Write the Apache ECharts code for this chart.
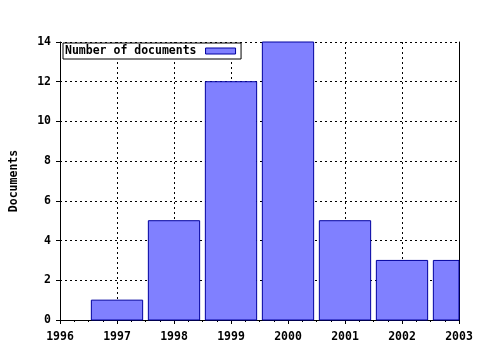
<!DOCTYPE html>
<html>
<head>
<meta charset="utf-8">
<script src="https://cdn.jsdelivr.net/npm/echarts@6/dist/echarts.min.js"></script>
<style>
  html, body { margin: 0; padding: 0; background: #fff; }
  #chart { width: 480px; height: 350px; }
</style>
</head>
<body>
<div id="chart"></div>
<script>
// data
const years = [1997, 1998, 1999, 2000, 2001, 2002, 2003];
const docs = [1, 5, 12, 14, 5, 3, 3];
const seriesName = "Number of documents";

const font = "DejaVu Sans Mono";
const barFill = "#8080ff";
const barEdge = "#0000a0";
const chart = echarts.init(document.getElementById("chart"));

const labelStyle = { color: "#000", fontFamily: font, fontWeight: "bold", fontSize: 11.5 };
const dotted = { show: true, lineStyle: { color: "#000", type: [2, 3] } };

chart.setOption({
    animation: false,
    grid: { left: 58, right: 21, top: 42, bottom: 30 },
    legend: {
        left: 63, top: 43,
        padding: [2, 5, 2, 2],
        borderColor: "#000", borderWidth: 1,
        backgroundColor: "#fff",
        align: "right",
        itemWidth: 30, itemHeight: 6,
        itemStyle: { color: barFill, borderColor: barEdge, borderWidth: 1 },
        textStyle: Object.assign({}, labelStyle, { padding: [0, 4, 0, 0] }),
        data: [{ name: seriesName, icon: "rect" }],
    },
    xAxis: [{
        type: "value",
        min: 1996, max: 2003, interval: 1,
        axisLine: { lineStyle: { color: "#000" } },
        axisTick: { length: 4, lineStyle: { color: "#000" } },
        minorTick: { show: true, splitNumber: 4, length: 2, lineStyle: { color: "#000" } },
        axisLabel: Object.assign({ margin: 11, formatter: v => String(v) }, labelStyle),
        splitLine: dotted,
    }, {
        type: "value", position: "top",
        min: 1996, max: 2003, interval: 1,
        axisLine: { show: true, lineStyle: { color: "#000" } },
        axisTick: { show: true, inside: true, length: 4, lineStyle: { color: "#000" } },
        minorTick: { show: true, splitNumber: 4, length: 2, lineStyle: { color: "#000" } },
        axisLabel: { show: false },
        splitLine: { show: false },
    }],
    yAxis: [{
        type: "value",
        min: 0, max: 14, interval: 2,
        name: "Documents",
        nameLocation: "middle",
        nameGap: 40,
        nameTextStyle: labelStyle,
        axisLine: { show: true, lineStyle: { color: "#000" } },
        axisTick: { show: true, length: 4, lineStyle: { color: "#000" } },
        axisLabel: Object.assign({ margin: 9 }, labelStyle),
        splitLine: dotted,
    }, {
        type: "value", position: "right",
        min: 0, max: 14, interval: 2,
        axisLine: { show: true, lineStyle: { color: "#000" } },
        axisTick: { show: false },
        axisLabel: { show: false },
        splitLine: { show: false },
    }],
    series: [{
        name: seriesName,
        type: "custom",
        itemStyle: { color: barFill, borderColor: barEdge, borderWidth: 1 },
        data: years.map((y, i) => [y, docs[i]]),
        encode: { x: 0, y: 1 },
        renderItem(params, api) {
            const x = api.value(0);
            const base = api.coord([x, 0]);
            const top = api.coord([x, api.value(1)]);
            const w = api.size([0.9, 0])[0];
            const cs = params.coordSys;
            const shape = echarts.graphic.clipRectByRect(
                { x: base[0] - w / 2, y: top[1], width: w, height: base[1] - top[1] },
                { x: cs.x, y: cs.y, width: cs.width, height: cs.height }
            );
            if (!shape) return null;
            return {
                type: "rect",
                shape: shape,
                style: { fill: barFill, stroke: barEdge, lineWidth: 1 },
            };
        },
    }],
});
</script>
</body>
</html>
